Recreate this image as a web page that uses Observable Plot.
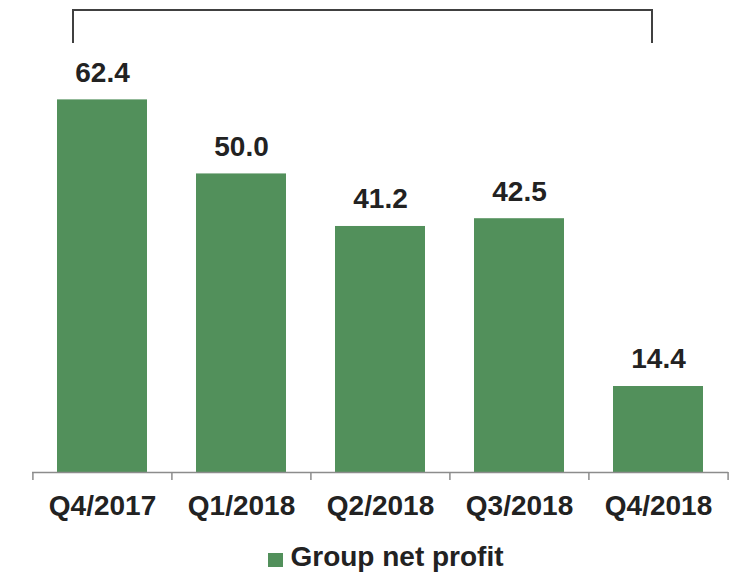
<!DOCTYPE html>
<html>
<head>
<meta charset="utf-8">
<script src="https://cdn.jsdelivr.net/npm/d3@7"></script>
<script src="https://cdn.jsdelivr.net/npm/@observablehq/plot@0.6"></script>
<style>
  html, body { margin: 0; padding: 0; background: #fff; }
  body { width: 742px; height: 575px; overflow: hidden; font-family: "Liberation Sans", Arial, sans-serif; }
  #legend { height: 40px; line-height: 40px; margin-top: 2px; display: flex; justify-content: center; align-items: center; padding-left: 30px; font-size: 28px; font-weight: bold; color: #222; }
  #legend .sw { width: 15px; height: 14px; background: #52905b; margin-right: 7px; margin-top: 6px; }
</style>
</head>
<body>
<div id="chart"></div>
<div id="legend"><span class="sw"></span><span>Group net profit</span></div>
<script>
const categories = ["Q4/2017", "Q1/2018", "Q2/2018", "Q3/2018", "Q4/2018"];
const values = [62.4, 50.0, 41.2, 42.5, 14.4];
const labels = ["62.4", "50.0", "41.2", "42.5", "14.4"];
const seriesName = "Group net profit";

const data = categories.map((c, i) => ({cat: c, value: values[i], label: labels[i]}));

const W = 742, H = 535;
const mL = 32, mR = 14, mT = 54, mB = 63;
const step = (W - mL - mR) / categories.length;

const plot = Plot.plot({
  width: W,
  height: H,
  marginLeft: mL,
  marginRight: mR,
  marginTop: mT,
  marginBottom: mB,
  style: {fontFamily: "'Liberation Sans', Arial, sans-serif", background: "#fff", overflow: "visible"},
  x: {domain: categories, paddingInner: 0.353, paddingOuter: 0.1765, label: null},
  y: {domain: [0, 70], axis: null},
  marks: [
    Plot.barY(data, {x: "cat", y: "value", fill: "#52905b"}),
    Plot.ruleY([0], {stroke: "#8c8c8c", strokeWidth: 1.5}),
    Plot.ruleX(categories, {x: d => d, y1: 0, y2: 0, insetBottom: -8, dx: -step / 2, stroke: "#8c8c8c", strokeWidth: 1.5}),
    Plot.ruleX([categories[categories.length - 1]], {x: d => d, y1: 0, y2: 0, insetBottom: -8, dx: step / 2, stroke: "#8c8c8c", strokeWidth: 1.5}),
    Plot.text(data, {x: "cat", y: "value", text: "label", dy: -27, fontSize: 28, fontWeight: "bold", fill: "#222"}),
    Plot.axisX({tickSize: 0, tickPadding: 23, fontSize: 28, fontWeight: "bold", fill: "#222"})
  ]
});

document.getElementById("chart").appendChild(plot);

// bracket annotation across the period, positioned from the x scale
const xs = plot.scale("x");
const bw = xs.bandwidth;
const bLeft = xs.apply(categories[0]) + bw / 2 - 29;
const bRight = xs.apply(categories[categories.length - 1]) + bw / 2 - 6;
const bTop = 10, bBottom = 43;
d3.select(plot).append("path")
  .attr("d", `M${bLeft},${bBottom}V${bTop}H${bRight}V${bBottom}`)
  .attr("fill", "none")
  .attr("stroke", "#404040")
  .attr("stroke-width", 2);
</script>
</body>
</html>
